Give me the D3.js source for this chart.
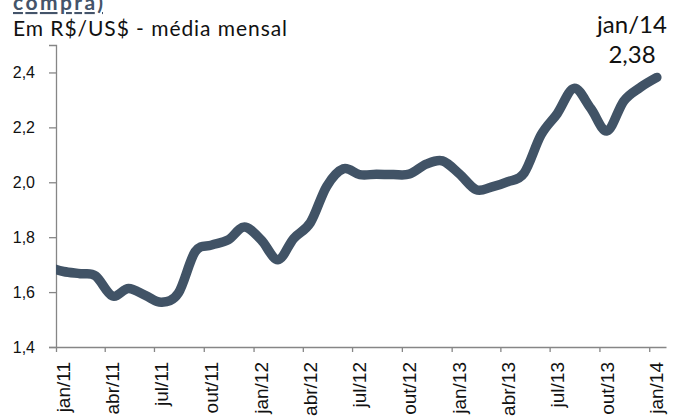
<!DOCTYPE html>
<html>
<head>
<meta charset="utf-8">
<script src="https://cdn.jsdelivr.net/npm/d3@7"></script>
<style>
  body { margin: 0; background: #fff; }
  svg { display: block; }
</style>
</head>
<body>
<div id="chart"></div>
<script>
// monthly average R$/US$ (dec/10 is drawn but clipped at the axis)
var months = ["2010-12","2011-01","2011-02","2011-03","2011-04","2011-05","2011-06","2011-07","2011-08","2011-09","2011-10","2011-11","2011-12",
  "2012-01","2012-02","2012-03","2012-04","2012-05","2012-06","2012-07","2012-08","2012-09","2012-10","2012-11","2012-12",
  "2013-01","2013-02","2013-03","2013-04","2013-05","2013-06","2013-07","2013-08","2013-09","2013-10","2013-11","2013-12","2014-01"];
var rates = [1.693,1.675,1.667,1.659,1.586,1.613,1.588,1.563,1.596,1.747,1.771,1.790,1.837,
  1.790,1.718,1.795,1.853,1.985,2.049,2.028,2.029,2.028,2.030,2.066,2.078,
  2.031,1.973,1.982,2.002,2.034,2.172,2.250,2.342,2.269,2.187,2.296,2.345,2.382];
var tickMonths = ["2011-01","2011-04","2011-07","2011-10","2012-01","2012-04","2012-07","2012-10","2013-01","2013-04","2013-07","2013-10","2014-01"];
var tickLabels = ["jan/11","abr/11","jul/11","out/11","jan/12","abr/12","jul/12","out/12","jan/13","abr/13","jul/13","out/13","jan/14"];
var yTicks = [1.4, 1.6, 1.8, 2.0, 2.2, 2.4];

var svgWidth = 678, svgHeight = 417;
var margin = {top: 45, right: 12, bottom: 70, left: 56};
var width = svgWidth - margin.left - margin.right;
var height = svgHeight - margin.top - margin.bottom;

var parse = d3.timeParse("%Y-%m");
var data = months.map(function(m, i) {
  var d = parse(m);
  return {date: new Date(d.getFullYear(), d.getMonth(), 15), value: rates[i]};
});

var svg = d3.select("#chart").append("svg")
  .attr("width", svgWidth)
  .attr("height", svgHeight);

var chartGroup = svg.append("g")
  .attr("transform", `translate(${margin.left}, ${margin.top})`);

var xScale = d3.scaleTime()
  .domain([new Date(2011, 0, 1), new Date(2014, 1, 1)])
  .range([0, width]);
var yScale = d3.scaleLinear()
  .domain([1.4, 2.5])
  .range([height, 0]);

var axisColor = "#868686";
var labelFont = "'Liberation Sans', Arial, sans-serif";

// y axis
var yAxis = chartGroup.append("g")
  .call(d3.axisLeft(yScale).tickValues(yTicks).tickSize(7).tickPadding(14)
    .tickFormat(function(d) { return d3.format(".1f")(d).replace(".", ","); }));
yAxis.select(".domain").attr("stroke", axisColor).attr("stroke-width", 1.3);
yAxis.selectAll(".tick line").attr("stroke", axisColor).attr("stroke-width", 1.3);
yAxis.selectAll(".tick text")
  .attr("fill", "#111")
  .style("font-family", labelFont)
  .style("font-size", "16px");

// x axis
var tickDates = tickMonths.map(parse);
var xAxis = chartGroup.append("g")
  .attr("transform", `translate(0, ${height})`)
  .call(d3.axisBottom(xScale).tickValues(tickDates).tickSize(5).tickSizeOuter(0)
    .tickFormat(function(d, i) { return tickLabels[i]; }));
xAxis.select(".domain").attr("stroke", axisColor).attr("stroke-width", 1.3);
xAxis.selectAll(".tick line").attr("stroke", axisColor).attr("stroke-width", 1.3);
xAxis.selectAll(".tick text")
  .attr("fill", "#111")
  .attr("text-anchor", "end")
  .attr("transform", "translate(7, 15) rotate(-90)")
  .attr("x", 0)
  .attr("y", 0)
  .attr("dy", "0.35em")
  .style("font-family", labelFont)
  .style("font-size", "19px");

// clip so the dec/10 point is cut at the y axis
chartGroup.append("clipPath").attr("id", "plotClip")
  .append("rect").attr("x", 0).attr("y", -margin.top).attr("width", width + margin.right).attr("height", height + margin.top);

var line = d3.line()
  .x(d => xScale(d.date))
  .y(d => yScale(d.value))
  .curve(d3.curveCardinal.tension(0));

chartGroup.append("path")
  .datum(data)
  .attr("clip-path", "url(#plotClip)")
  .attr("d", line)
  .attr("fill", "none")
  .attr("stroke", "#415366")
  .attr("stroke-width", 9.5)
  .attr("stroke-linecap", "round")
  .attr("stroke-linejoin", "round");

// titles
var titleFont = "'Lato', 'Open Sans', sans-serif";
svg.append("text")
  .attr("x", 13)
  .attr("y", 10)
  .attr("fill", "#44546a")
  .attr("textLength", 90)
  .style("font-family", titleFont)
  .style("font-weight", "bold")
  .style("font-size", "21px")
  .style("text-decoration", "underline")
  .text("compra)");

svg.append("text")
  .attr("x", 13)
  .attr("y", 36)
  .attr("fill", "#111")
  .attr("textLength", 274)
  .style("font-family", titleFont)
  .style("font-size", "21px")
  .text("Em R$/US$ - média mensal");

// last value annotation
var last = data[data.length - 1];
var noteGroup = svg.append("g").attr("text-anchor", "middle")
  .style("font-family", titleFont)
  .style("font-size", "24px")
  .attr("fill", "#111");
noteGroup.append("text").attr("x", 632).attr("y", 33).text("jan/14");
noteGroup.append("text").attr("x", 632).attr("y", 63).text(d3.format(".2f")(last.value).replace(".", ","));
</script>
</body>
</html>
